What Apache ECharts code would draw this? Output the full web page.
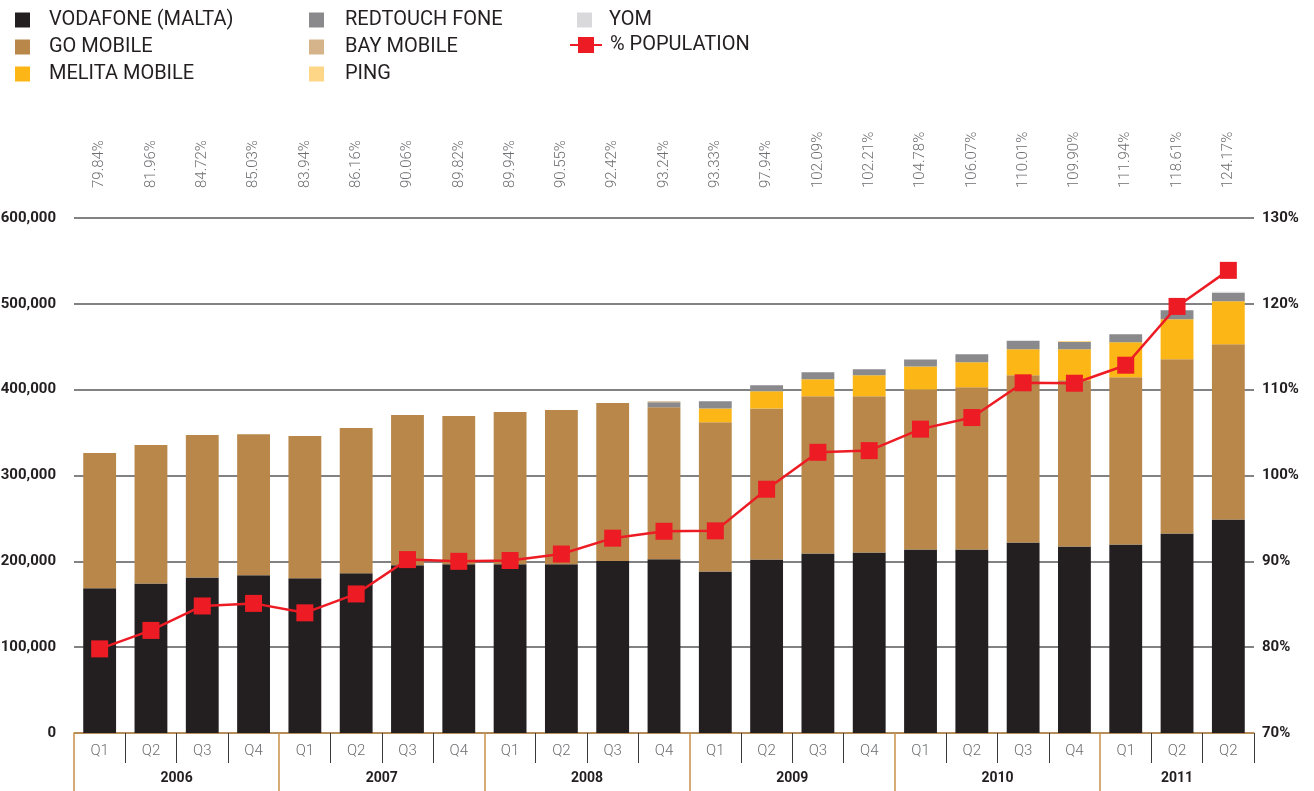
<!DOCTYPE html>
<html>
<head>
<meta charset="utf-8">
<script src="https://cdn.jsdelivr.net/npm/echarts@6/dist/echarts.min.js"></script>
<style>html,body{margin:0;padding:0;background:#fff}#c{width:1314px;height:791px}</style>
</head>
<body>
<div id="c"></div>
<script>
const quarters = ['Q1','Q2','Q3','Q4','Q1','Q2','Q3','Q4','Q1','Q2','Q3','Q4','Q1','Q2','Q3','Q4','Q1','Q2','Q3','Q4','Q1','Q2','Q2'];
const years = ['2006','2007','2008','2009','2010','2011'];
const yearQuarterCounts = [4,4,4,4,4,3];
const popLabels = ['79.84%','81.96%','84.72%','85.03%','83.94%','86.16%','90.06%','89.82%','89.94%','90.55%','92.42%','93.24%','93.33%','97.94%','102.09%','102.21%','104.78%','106.07%','110.01%','109.90%','111.94%','118.61%','124.17%'];

const vodafone = [168500,174300,181300,183700,180200,186000,195300,196500,196500,196500,200300,202300,188200,202200,209200,210300,213800,213800,222000,217300,219700,232500,248800];
const goMobile = [157600,161100,165800,164500,165700,169300,175100,172800,177400,179800,184100,177100,173700,176000,183000,181900,186500,188900,194700,193700,194700,202900,204100];
const melita   = [0,0,0,0,0,0,0,0,0,0,0,0,16300,19900,19800,24500,26700,29200,30300,36000,40800,46600,50100];
const redtouch = [0,0,0,0,0,0,0,0,0,0,0,6000,8200,7000,8200,7000,8200,9300,9700,8600,9300,10500,9700];
const bay      = [0,0,0,0,0,0,0,0,0,0,0,1200,0,0,0,0,0,0,0,0,0,0,0];
const ping     = [0,0,0,0,0,0,0,0,0,0,0,0,0,0,0,0,0,0,0,1100,0,0,0];
const yom      = [0,0,0,0,0,0,0,0,0,0,0,0,0,0,0,0,0,0,1000,0,0,0,1500];
const population = [79.8,81.95,84.8,85.1,84.0,86.2,90.2,90.0,90.1,90.85,92.7,93.5,93.55,98.4,102.7,102.9,105.4,106.75,110.8,110.75,112.85,119.7,123.9];

const FONT = 'Roboto, "Noto Sans", sans-serif';

// year axis: half-quarter positions (boundaryGap false)
const totalHalves = quarters.length * 2;
const yearAxisData = new Array(totalHalves + 1).fill('');
const yearTickIdx = new Set();
const yearLabelIdx = new Set();
const yearStartQuarter = new Set();
let q = 0;
years.forEach((y, i) => {
  yearTickIdx.add(q * 2);
  yearStartQuarter.add(q);
  const c = q * 2 + yearQuarterCounts[i];
  yearAxisData[c] = y;
  yearLabelIdx.add(c);
  q += yearQuarterCounts[i];
});

const chart = echarts.init(document.getElementById('c'), null, {renderer: 'canvas'});

const barSeries = [
  ['VODAFONE (MALTA)', vodafone, '#231f20'],
  ['GO MOBILE', goMobile, '#b88749'],
  ['MELITA MOBILE', melita, '#fcb716'],
  ['REDTOUCH FONE', redtouch, '#8a8a8d'],
  ['BAY MOBILE', bay, '#d5b48c'],
  ['PING', ping, '#fed687'],
  ['YOM', yom, '#d9d9db']
].map(([name, data, color]) => ({
  name, type: 'bar', stack: 'total', data, barWidth: '64%',
  itemStyle: {color}, emphasis: {disabled: true}, animation: false
}));

const legendBase = {
  orient: 'vertical', top: 5, itemWidth: 15, itemHeight: 15, itemGap: 7,
  icon: 'rect', selectedMode: false
};
const legendText = (pad) => ({fontFamily: FONT, fontSize: 20, color: '#231f20', padding: [0, 0, 0, pad]});

chart.setOption({
  animation: false,
  backgroundColor: '#fff',
  textStyle: {fontFamily: FONT},
  legend: [
    Object.assign({}, legendBase, {left: 10, data: ['VODAFONE (MALTA)','GO MOBILE','MELITA MOBILE'], textStyle: legendText(14)}),
    Object.assign({}, legendBase, {left: 304, data: ['REDTOUCH FONE','BAY MOBILE','PING'], textStyle: legendText(16)}),
    Object.assign({}, legendBase, {left: 572, data: ['YOM'], textStyle: legendText(12)}),
    Object.assign({}, legendBase, {left: 564, top: 30, itemWidth: 32, itemHeight: 20, icon: null, data: ['% POPULATION'], textStyle: legendText(3)})
  ],
  grid: {left: 74, right: 60, top: 218, bottom: 58, containLabel: false, outerBoundsMode: 'none'},
  xAxis: [
    {
      type: 'category', data: quarters, position: 'bottom',
      axisLine: {onZero: false, lineStyle: {color: '#c8914b', width: 1.5}},
      axisTick: {show: true, interval: (i) => !yearStartQuarter.has(i), length: 30, lineStyle: {color: '#3a3a3a', width: 1}},
      axisLabel: {interval: 0, margin: 11, color: '#6d6e71', fontSize: 15, fontFamily: FONT, fontWeight: 300},
      splitLine: {show: false}
    },
    {
      type: 'category', data: yearAxisData, boundaryGap: false, position: 'bottom',
      axisLine: {show: false},
      axisTick: {show: true, interval: (i) => yearTickIdx.has(i), length: 58, lineStyle: {color: '#c8914b', width: 1.5}},
      axisLabel: {interval: (i) => yearLabelIdx.has(i), margin: 38, color: '#231f20', fontSize: 14, fontWeight: 'bold', fontFamily: FONT},
      splitLine: {show: false}
    },
    {
      type: 'category', data: popLabels, position: 'top',
      axisLine: {show: false}, axisTick: {show: false},
      axisLabel: {interval: 0, rotate: -90, margin: 30, color: '#6d6e71', fontSize: 15, fontWeight: 300, fontFamily: FONT},
      splitLine: {show: false}
    }
  ],
  yAxis: [
    {
      type: 'value', min: 0, max: 600000, interval: 100000, position: 'left',
      axisLine: {show: false}, axisTick: {show: false},
      axisLabel: {formatter: (v) => v.toLocaleString('en-US'), color: '#231f20', fontSize: 15, fontWeight: 'bold', margin: 18, fontFamily: FONT},
      splitLine: {lineStyle: {color: '#58595b', width: 1.5}}
    },
    {
      type: 'value', min: 70, max: 130, interval: 10, position: 'right',
      axisLine: {show: false}, axisTick: {show: false}, splitLine: {show: false},
      axisLabel: {formatter: '{value}%', color: '#231f20', fontSize: 15, fontWeight: 'bold', margin: 8, fontFamily: FONT}
    }
  ],
  series: barSeries.concat([{
    name: '% POPULATION', type: 'line', yAxisIndex: 1, data: population,
    symbol: 'rect', symbolSize: 17, z: 10,
    lineStyle: {color: '#ed1c24', width: 2.5},
    itemStyle: {color: '#ed1c24'},
    emphasis: {disabled: true}
  }])
});
</script>
</body>
</html>
